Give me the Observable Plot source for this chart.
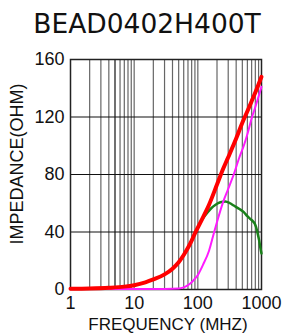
<!DOCTYPE html>
<html><head><meta charset="utf-8">
<script src="https://cdn.jsdelivr.net/npm/d3@7"></script>
<script src="https://cdn.jsdelivr.net/npm/@observablehq/plot@0.6"></script>
<style>
body{margin:0;background:#fff;width:286px;height:333px;overflow:hidden}
#title{font-family:"DejaVu Sans",Verdana,sans-serif;font-size:26.5px;height:44px;line-height:44px;padding-top:2px;padding-left:8px;box-sizing:border-box;text-align:center;color:#111;white-space:nowrap}
#chart svg{display:block}
</style></head><body>
<div id="title"></div>
<div id="chart"></div>
<script>
const title = "BEAD0402H400T";
const xLabel = "FREQUENCY (MHZ)";
const yLabel = "IMPEDANCE(OHM)";
const xTicks = [1, 10, 100, 1000];
const yTicks = [0, 40, 80, 120, 160];
const yGrid = [40, 80, 120];
const xGrid = [2,3,4,5,6,7,8,9,10,20,30,40,50,60,70,80,90,100,200,300,400,500,600,700,800,900];

// Z (total impedance), red
const zFreq = [1, 2, 4, 7, 10, 15, 20, 30, 40, 50, 60, 70, 80, 90, 100, 120, 150, 200, 250, 300, 400, 500, 600, 700, 800, 1000];
const zVal  = [0.5, 0.7, 1.2, 2, 3, 5, 7, 10.5, 14.5, 19, 24, 29, 34, 39, 43, 50, 59, 73, 84, 92, 105, 116, 124, 131, 137, 148];
// R (resistance), magenta
const rFreq = [1, 10, 30, 50, 60, 70, 80, 90, 100, 110, 120, 150, 178, 200, 250, 300, 366, 450, 527, 600, 710, 800, 1000];
const rVal  = [0.3, 0.3, 0.4, 0.7, 1.5, 3, 5, 7.5, 10, 13.5, 17, 27, 39, 47, 61, 70, 80, 92, 100, 108, 120, 127, 141];
// X (reactance), green
const xFreq = [80, 90, 100, 110, 130, 158, 190, 226, 270, 320, 366, 450, 527, 600, 670, 730, 780, 820, 870, 920, 960, 1000];
const xVal  = [34, 39, 43, 46.8, 51.5, 56, 59, 60.7, 61.2, 60, 58.4, 56, 53.8, 51, 49, 47.5, 46, 43.5, 39, 34, 29, 25];

const toRows = (f, v) => f.map((d, i) => ({f: d, v: v[i]}));
document.getElementById("title").textContent = title;

const font = "Liberation Sans, Arial, sans-serif";
const chart = Plot.plot({
  width: 286,
  height: 289,
  marginTop: 15,
  marginBottom: 44,
  marginLeft: 70,
  marginRight: 25,
  style: {fontFamily: font, fontSize: "18px", color: "#111", background: "#fff"},
  x: {type: "log", domain: [1, 1000]},
  y: {domain: [0, 160]},
  marks: [
    Plot.ruleX(xGrid, {stroke: d => d === 5 ? "#111" : "#666", strokeWidth: 1.2}),
    Plot.ruleY(yGrid, {stroke: "#111", strokeWidth: 1.2}),
    Plot.frame({stroke: "#222", strokeWidth: 1.5}),
    Plot.axisX(xTicks, {tickSize: 0, tickPadding: 7, tickFormat: d => String(d), label: null, fontSize: 18}),
    Plot.axisY(yTicks, {tickSize: 0, tickPadding: 6, label: null, fontSize: 18}),
    Plot.line(toRows(xFreq, xVal), {x: "f", y: "v", stroke: "#1a801a", strokeWidth: 2.5, curve: "monotone-x"}),
    Plot.line(toRows(rFreq, rVal), {x: "f", y: "v", stroke: "#ff1aff", strokeWidth: 2, curve: "monotone-x"}),
    Plot.line(toRows(zFreq, zVal), {x: "f", y: "v", stroke: "#ff0000", strokeWidth: 4, curve: "monotone-x"}),
    Plot.text([yLabel], {frameAnchor: "left", rotate: -90, dx: -53.5, dy: -10.5, fontSize: 18, fill: "#111", lineAnchor: "middle", textAnchor: "middle"}),
    Plot.text([xLabel], {frameAnchor: "bottom", dx: 2, dy: 40, fontSize: 17, fill: "#111", lineAnchor: "bottom", textAnchor: "middle"})
  ]
});
document.getElementById("chart").appendChild(chart);
</script></body></html>
